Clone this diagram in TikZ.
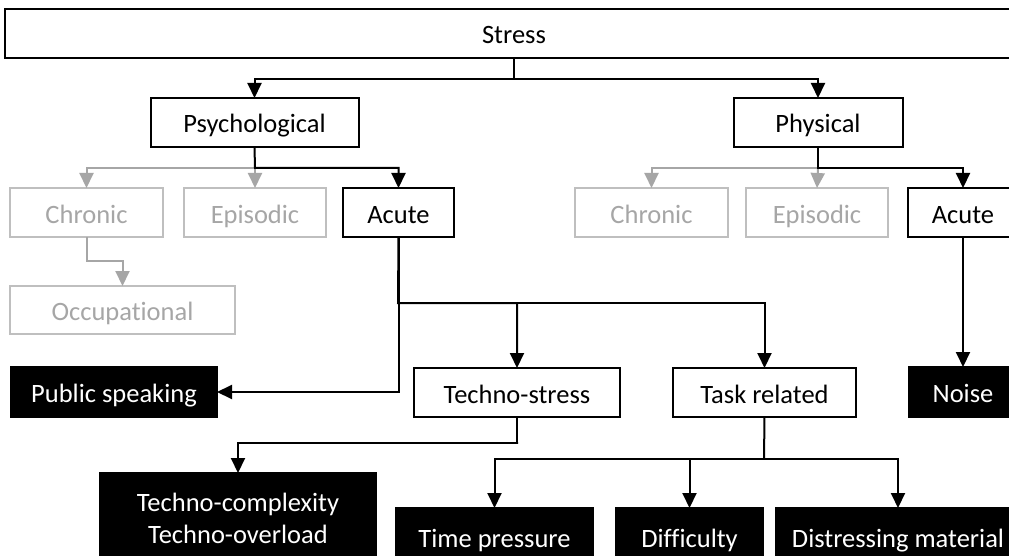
\documentclass[tikz,border=0pt]{standalone}
\usepackage{fontspec}
\setmainfont[Ligatures=NoCommon]{Carlito}
\usetikzlibrary{arrows.meta}
\definecolor{fadegray}{HTML}{A6A6A6}
\definecolor{fadeborder}{HTML}{BFBFBF}
\begin{document}
\begin{tikzpicture}[x=1pt,y=-1pt,
  every node/.style={font=\fontsize{26.5pt}{32pt}\selectfont, inner sep=0pt, outer sep=0pt, align=center},
  oneline/.style={text height=21pt, text depth=0pt},
  wbox/.style={oneline, draw=black, line width=2pt, fill=white, text=black},
  gbox/.style={oneline, draw=fadeborder, line width=2pt, fill=white, text=fadegray},
  bbox/.style={oneline, draw=black, line width=2pt, fill=black, text=white},
  bblock/.style={draw=black, line width=2pt, fill=black, text=white},
  conn/.style={draw=black, line width=2pt, -{Triangle[width=14pt,length=15pt]}},
  gconn/.style={draw=fadegray, line width=2pt, -{Triangle[width=14pt,length=15pt]}},
  stem/.style={draw=black, line width=2pt}
]
\useasboundingbox (0,0) rectangle (1009,556);
\fill[white] (0,0) rectangle (1009,556);
\clip (0,0) rectangle (1009,556);

% top level
\node[wbox, minimum width=1018pt, minimum height=49pt] (stress) at (514,33.5) {Stress};

% second level
\node[wbox, minimum width=208pt, minimum height=49pt] (psy) at (254.5,122.5) {Psychological};
\node[wbox, minimum width=169pt, minimum height=49pt] (phy) at (818,122.5) {Physical};

% psychological branch
\node[gbox, minimum width=153pt, minimum height=49pt] (pchr) at (86.5,212.5) {Chronic};
\node[gbox, minimum width=142pt, minimum height=49pt] (pepi) at (255,212.5) {Episodic};
\node[wbox, minimum width=111pt, minimum height=49pt] (pacu) at (398.5,212.5) {Acute};
\node[gbox, minimum width=225pt, minimum height=48pt] (occ) at (122.5,310) {Occupational};

% physical branch
\node[gbox, minimum width=153pt, minimum height=49pt] (hchr) at (651.5,212.5) {Chronic};
\node[gbox, minimum width=142pt, minimum height=49pt] (hepi) at (817,212.5) {Episodic};
\node[wbox, minimum width=110pt, minimum height=49pt] (hacu) at (963,212.5) {Acute};

% acute psychological stressors
\node[bbox, minimum width=206pt, minimum height=50pt] (pub) at (114,392) {Public speaking};
\node[wbox, minimum width=206pt, minimum height=49pt] (tech) at (517,392.5) {Techno-stress};
\node[wbox, minimum width=183pt, minimum height=49pt] (task) at (764.5,392.5) {Task related};
\node[bbox, minimum width=108pt, minimum height=50pt] (noise) at (963,392) {Noise};

% leaves
\node[bblock, minimum width=276pt, minimum height=90pt] (tcx) at (238,518) {Techno-complexity\\Techno-overload};
\node[bbox, minimum width=197pt, minimum height=58pt] (tp) at (494.5,537) {Time pressure};
\node[bbox, minimum width=147pt, minimum height=58pt] (dif) at (689.5,537) {Difficulty};
\node[bbox, minimum width=244pt, minimum height=58pt] (dis) at (898,537) {Distressing material};

% junction points
\coordinate (j0) at (514,79);
\coordinate (jp) at (255,168);
\coordinate (jh) at (818,168);
\coordinate (jc) at (87,261);
\coordinate (ja) at (398,303);
\coordinate (jt) at (518,443);
\coordinate (jk) at (764,459);

% Stress -> Psychological / Physical
\draw[conn] (stress.south) -- (j0) -| (psy.north);
\draw[conn] (j0) -| (phy.north);

% Psychological -> Chronic / Episodic / Acute
\draw[gconn] (jp) -| (pchr.north);
\draw[gconn] (jp) -- (pepi.north);
\draw[conn] (psy.south) -- (jp) -| (pacu.north);
\draw[gconn] (pchr.south) |- (jc) -| (occ.north);

% Physical -> Chronic / Episodic / Acute
\draw[gconn] (jh) -| (hchr.north);
\draw[gconn] (jh) -- (hepi.north);
\draw[conn] (phy.south) -- (jh) -| (hacu.north);
\draw[conn] (hacu.south) -- (noise.north);

% Acute (psychological) -> stressors
\draw[conn] (pacu.south) |- (pub.east);
\draw[conn] (pacu.south) -- (ja) -| (tech.north);
\draw[conn] (ja) -| (task.north);

% Techno-stress -> leaves
\draw[conn] (tech.south) |- (jt) -| (tcx.north);

% Task related -> leaves
\draw[stem] (task.south) -- (jk);
\draw[conn] (jk) -| (tp.north);
\draw[conn] (jk) -| (dif.north);
\draw[conn] (jk) -| (dis.north);
\end{tikzpicture}
\end{document}
